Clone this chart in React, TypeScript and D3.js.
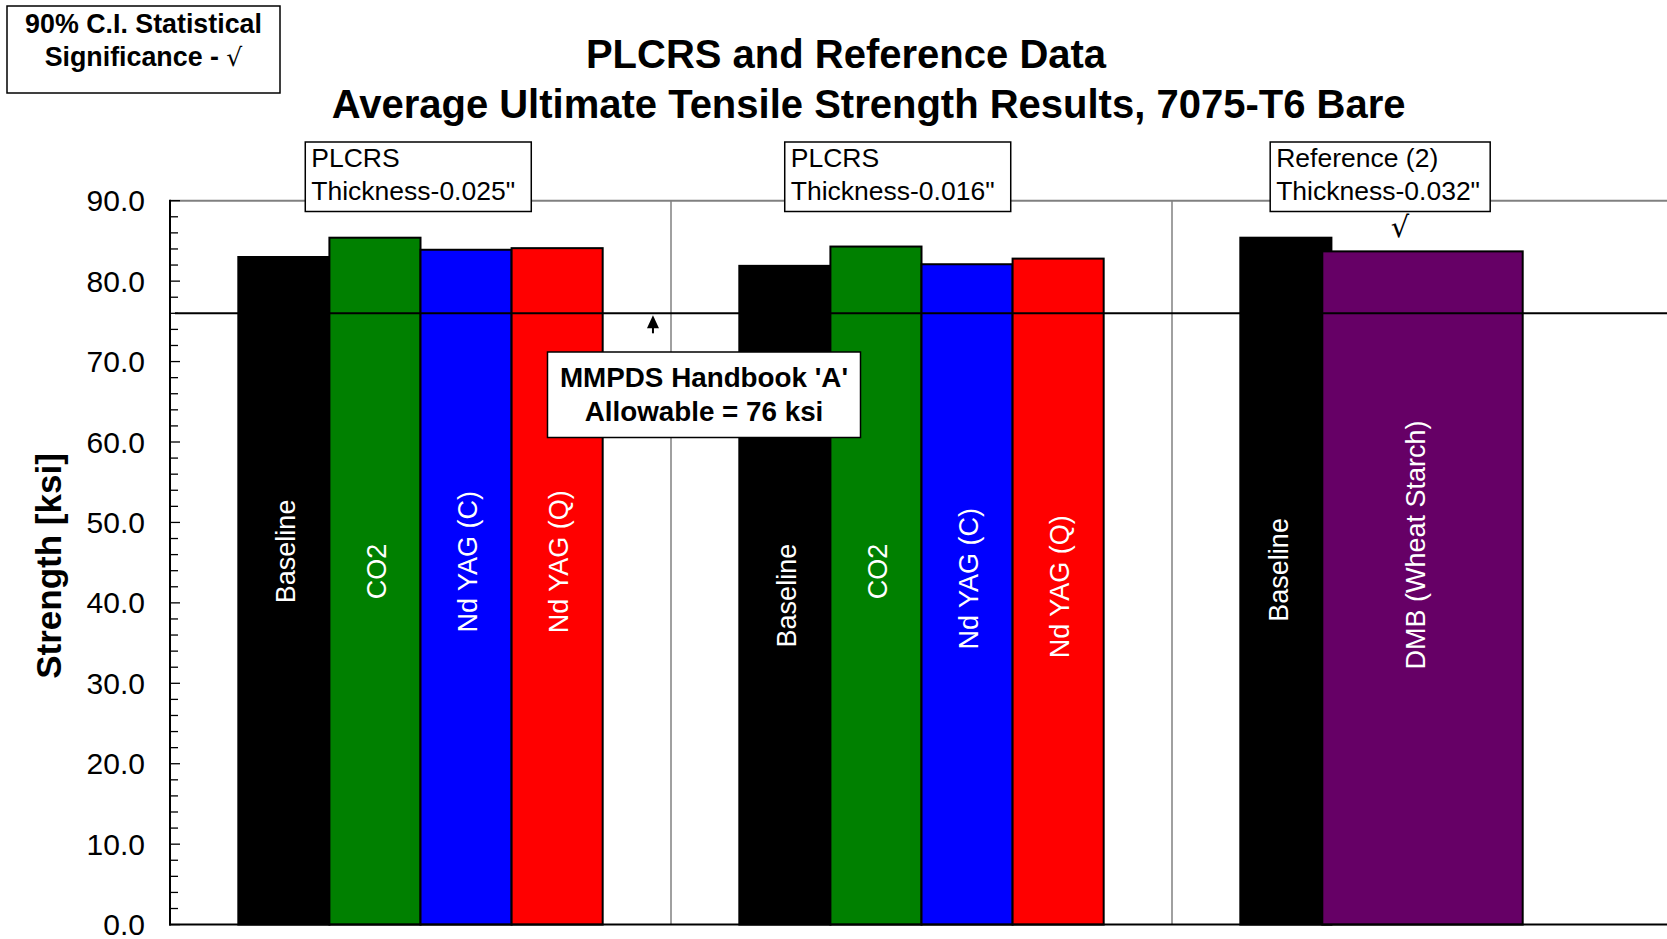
import React from 'react';
import * as d3 from 'd3';

const W = 1667;
const H = 939;
const FONT = '"Liberation Sans", Arial, Helvetica, sans-serif';

// ---- data ----
const groupLine1 = ['PLCRS', 'PLCRS', 'Reference (2)'];
const groupLine2 = ['Thickness-0.025"', 'Thickness-0.016"', 'Thickness-0.032"'];
const plcrsSeries = ['Baseline', 'CO2', 'Nd YAG (C)', 'Nd YAG (Q)'];
const plcrsColors = ['#000000', '#008000', '#0000ff', '#ff0000'];
const thick025Values = [83.0, 85.4, 83.9, 84.1];
const thick016Values = [81.9, 84.3, 82.1, 82.8];
const refSeries = ['Baseline', 'DMB (Wheat Starch)'];
const refColors = ['#000000', '#660066'];
const thick032Values = [85.4, 83.7];
const yTickValues = [0, 10, 20, 30, 40, 50, 60, 70, 80, 90];
const allowableKsi = 76;
const titleLines = ['PLCRS and Reference Data', 'Average Ultimate Tensile Strength Results, 7075-T6 Bare'];
const noteLines = ['90% C.I. Statistical', 'Significance - '];
const allowableLines = ["MMPDS Handbook 'A'", 'Allowable = 76 ksi'];

// ---- layout (not data) ----
const labelAt025 = [46.4, 43.9, 45.1, 45.1];
const labelAt016 = [40.9, 43.9, 43.0, 42.0];
const labelAt032 = [44.1, 47.2];
const labelShift = [2, 2, -7];
const boxOffsets = [0.27, 0.227, 0.196];
const boxWidths = [226, 226, 220];

export default function App() {
  const x = d3.scaleLinear().domain([0, 3]).range([170, 1673]);
  const y = d3.scaleLinear().domain([0, 90]).range([924.6, 200.7]);
  const slot = 1 / 5.5;
  const slot0 = 0.75 / 5.5;

  type Bar = { x0: number; x1: number; v: number; color: string; label: string; labelAt: number; shift: number };
  const bars: Bar[] = [];
  [thick025Values, thick016Values].forEach((vals, g) => {
    vals.forEach((v, s) => {
      bars.push({
        x0: x(g + slot0 + s * slot),
        x1: x(g + slot0 + (s + 1) * slot),
        v,
        color: plcrsColors[s],
        label: plcrsSeries[s],
        labelAt: (g === 0 ? labelAt025 : labelAt016)[s],
        shift: labelShift[g],
      });
    });
  });
  // reference group: baseline in first slot, DMB bar spans wider
  bars.push({ x0: x(2 + slot0), x1: x(2 + slot0 + slot), v: thick032Values[0], color: refColors[0], label: refSeries[0], labelAt: labelAt032[0], shift: labelShift[2] });
  bars.push({ x0: x(2 + slot0 + 0.9 * slot), x1: x(2 + slot0 + 3.1 * slot), v: thick032Values[1], color: refColors[1], label: refSeries[1], labelAt: labelAt032[1], shift: labelShift[2] });

  const minorTicks = d3.range(0, 91, 2);
  const y0 = y(0);
  const yTop = y(90);
  const yAllow = y(allowableKsi);
  const arrowX = x(0.964);

  return (
    <svg width={W} height={H} style={{ position: 'absolute', left: 0, top: 0, display: 'block', background: '#fff' }} fontFamily={FONT}>
      <rect x={0} y={0} width={W} height={H} fill="#fff" />
      {/* plot frame top and separators */}
      <line x1={x(0)} x2={W} y1={yTop} y2={yTop} stroke="#808080" strokeWidth={2} />
      {[1, 2].map((g) => (
        <line key={g} x1={x(g)} x2={x(g)} y1={yTop} y2={y0} stroke="#808080" strokeWidth={1.5} />
      ))}
      {/* bars */}
      {bars.map((b, i) => (
        <rect key={i} x={b.x0} y={y(b.v)} width={b.x1 - b.x0} height={y0 - y(b.v)} fill={b.color} stroke="#000" strokeWidth={2} />
      ))}
      {/* allowable line */}
      <line x1={x(0) + 5} x2={W} y1={yAllow} y2={yAllow} stroke="#000" strokeWidth={2} />
      {/* bar labels */}
      {bars.map((b, i) => (
        <text
          key={'l' + i}
          transform={`translate(${(b.x0 + b.x1) / 2 + b.shift},${y(b.labelAt)}) rotate(-90)`}
          textAnchor="middle"
          dominantBaseline="central"
          fill="#fff"
          fontSize={27}
        >
          {b.label}
        </text>
      ))}
      {/* axes */}
      <line x1={x(0)} x2={x(0)} y1={yTop - 1} y2={y0 + 1} stroke="#000" strokeWidth={2} />
      <line x1={x(0) - 1} x2={W} y1={y0} y2={y0} stroke="#000" strokeWidth={2} />
      {minorTicks.map((t) => (
        <line key={'t' + t} x1={x(0)} x2={x(0) + (t % 10 === 0 ? 10 : 8)} y1={y(t)} y2={y(t)} stroke="#000" strokeWidth={1.3} />
      ))}
      {yTickValues.map((t) => (
        <text key={'tl' + t} x={145} y={y(t)} dy="0.35em" textAnchor="end" fontSize={30} fill="#000">
          {d3.format('.1f')(t)}
        </text>
      ))}
      <text transform={`translate(61,566) rotate(-90)`} textAnchor="middle" fontSize={35} fontWeight="bold" fill="#000">
        Strength [ksi]
      </text>
      {/* title */}
      <text x={846} y={68} textAnchor="middle" fontSize={40} fontWeight="bold">{titleLines[0]}</text>
      <text x={868.6} y={118} textAnchor="middle" fontSize={40} fontWeight="bold">{titleLines[1]}</text>
      {/* note box */}
      <rect x={7} y={6} width={273} height={87} fill="#fff" stroke="#000" strokeWidth={1.5} />
      <text x={143.5} y={33} textAnchor="middle" fontSize={26.8} fontWeight="bold">{noteLines[0]}</text>
      <text x={143.5} y={66} textAnchor="middle" fontSize={26.8} fontWeight="bold">
        {noteLines[1]}
        <tspan fontWeight="normal" fontFamily='"DejaVu Sans", sans-serif' fontSize={25}>√</tspan>
      </text>
      {/* group label boxes */}
      {groupLine1.map((l1, g) => {
        const bx = x(g + boxOffsets[g]);
        return (
          <g key={'box' + g}>
            <rect x={bx} y={142} width={boxWidths[g]} height={69.5} fill="#fff" stroke="#000" strokeWidth={1.5} />
            <text x={bx + 6} y={167} fontSize={26.5}>{l1}</text>
            <text x={bx + 6} y={200} fontSize={26.5}>{groupLine2[g]}</text>
          </g>
        );
      })}
      {/* significance mark on DMB */}
      <text x={x(2.455)} y={237} textAnchor="middle" fontSize={29} fontFamily='"DejaVu Sans", sans-serif'>√</text>
      {/* arrow */}
      <line x1={arrowX} x2={arrowX} y1={yAllow + 10} y2={yAllow + 20} stroke="#000" strokeWidth={2} />
      <path d={`M${arrowX},${yAllow + 2} L${arrowX - 6},${yAllow + 15} L${arrowX + 6},${yAllow + 15} Z`} fill="#000" />
      {/* allowable box */}
      <rect x={547.5} y={352} width={313} height={85.5} fill="#fff" stroke="#000" strokeWidth={1.5} />
      <text x={704} y={387} textAnchor="middle" fontSize={27.8} fontWeight="bold">{allowableLines[0]}</text>
      <text x={704} y={421} textAnchor="middle" fontSize={27.8} fontWeight="bold">{allowableLines[1]}</text>
    </svg>
  );
}
